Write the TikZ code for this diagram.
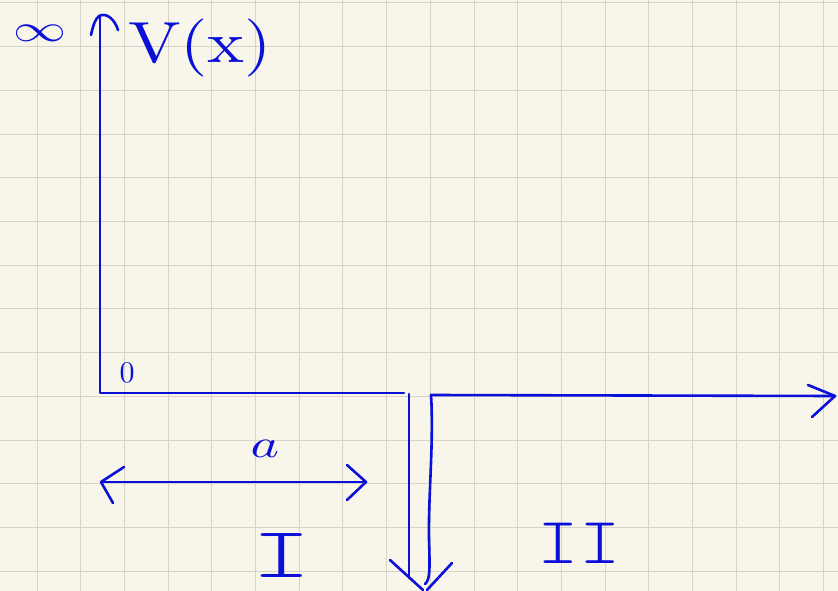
\documentclass[tikz,border=0pt]{standalone}
\usepackage{fix-cm}
\usepackage{fontspec}
\usepackage{graphicx}
\newfontfamily\handmono{Latin Modern Mono Light}
\definecolor{paper}{HTML}{F8F5EA}
\definecolor{gridc}{HTML}{D6D4C9}
\definecolor{ink}{HTML}{0A10D8}
\tikzset{
  hand/.style={draw=ink, line width=2.6pt, line cap=round, line join=round},
  gridline/.style={draw=gridc, line width=1pt},
  lbl/.style={text=ink, inner sep=0pt}
}
\begin{document}
\begin{tikzpicture}[x=1pt,y=-1pt]
\useasboundingbox (0,0) rectangle (838,591);
\fill[paper] (0,0) rectangle (838,591);
\foreach \i in {0,...,18} \draw[gridline] ({37+43.7*\i},0) -- ({37+43.7*\i},591);
\foreach \j in {0,...,13} \draw[gridline] (0,{3+43.7*\j}) -- (838,{3+43.7*\j});
% key points
\coordinate (Ytop) at (100,17);
\coordinate (O) at (100,393);
\coordinate (Aend) at (404,393);
\coordinate (Atop) at (409,394);
\coordinate (Abot) at (409,578);
\coordinate (Btop) at (431,395);
\coordinate (Bbot) at (425,584);
\coordinate (Xend) at (835,396);
\coordinate (L) at (101,482);
\coordinate (R) at (366,482);
% V axis and floor
\draw[hand] (Ytop) -- (O) -- (Aend);
\draw[hand] (91,35) .. controls (93,26) and (95,19) .. (99,16) .. controls (107,12) and (115,20) .. (118,30);
% downward arrow at x=a
\draw[hand] (Atop) -- (Abot);
\draw[hand] (390,560) -- (423,590);
\draw[hand] (427,590) -- (452,563);
% wobbly second wall
\draw[hand] (Btop) .. controls (434,440) and (428,500) .. (429,540) .. controls (430,570) and (430,580) .. (Bbot);
% x axis
\draw[hand] (Btop) -- (Xend);
\draw[hand] (808,385) -- (Xend) -- (812,417);
% width a
\draw[hand] (L) -- (R);
\draw[hand] (124,467) -- (L) -- (113,503);
\draw[hand] (347,465) -- (R) -- (347,500);
% labels
\node[lbl] (inf) at (40,33) {\scalebox{5.3}[3.8]{$\infty$}};
\node[lbl] (V) at (200,48) {\scalebox{7}[5.8]{V(x)}};
\node[lbl] (zero) at (127,373) {\scalebox{3}{0}};
\node[lbl] (a) at (265,449) {\scalebox{5.4}[4]{$a$}};
\node[lbl] (one) at (282,555) {\scalebox{1.6}[1]{\fontsize{72}{72}\handmono I}};
\node[lbl] (two) at (579,543) {\scalebox{1.2}[1]{\fontsize{66}{66}\handmono II}};
\end{tikzpicture}
\end{document}
